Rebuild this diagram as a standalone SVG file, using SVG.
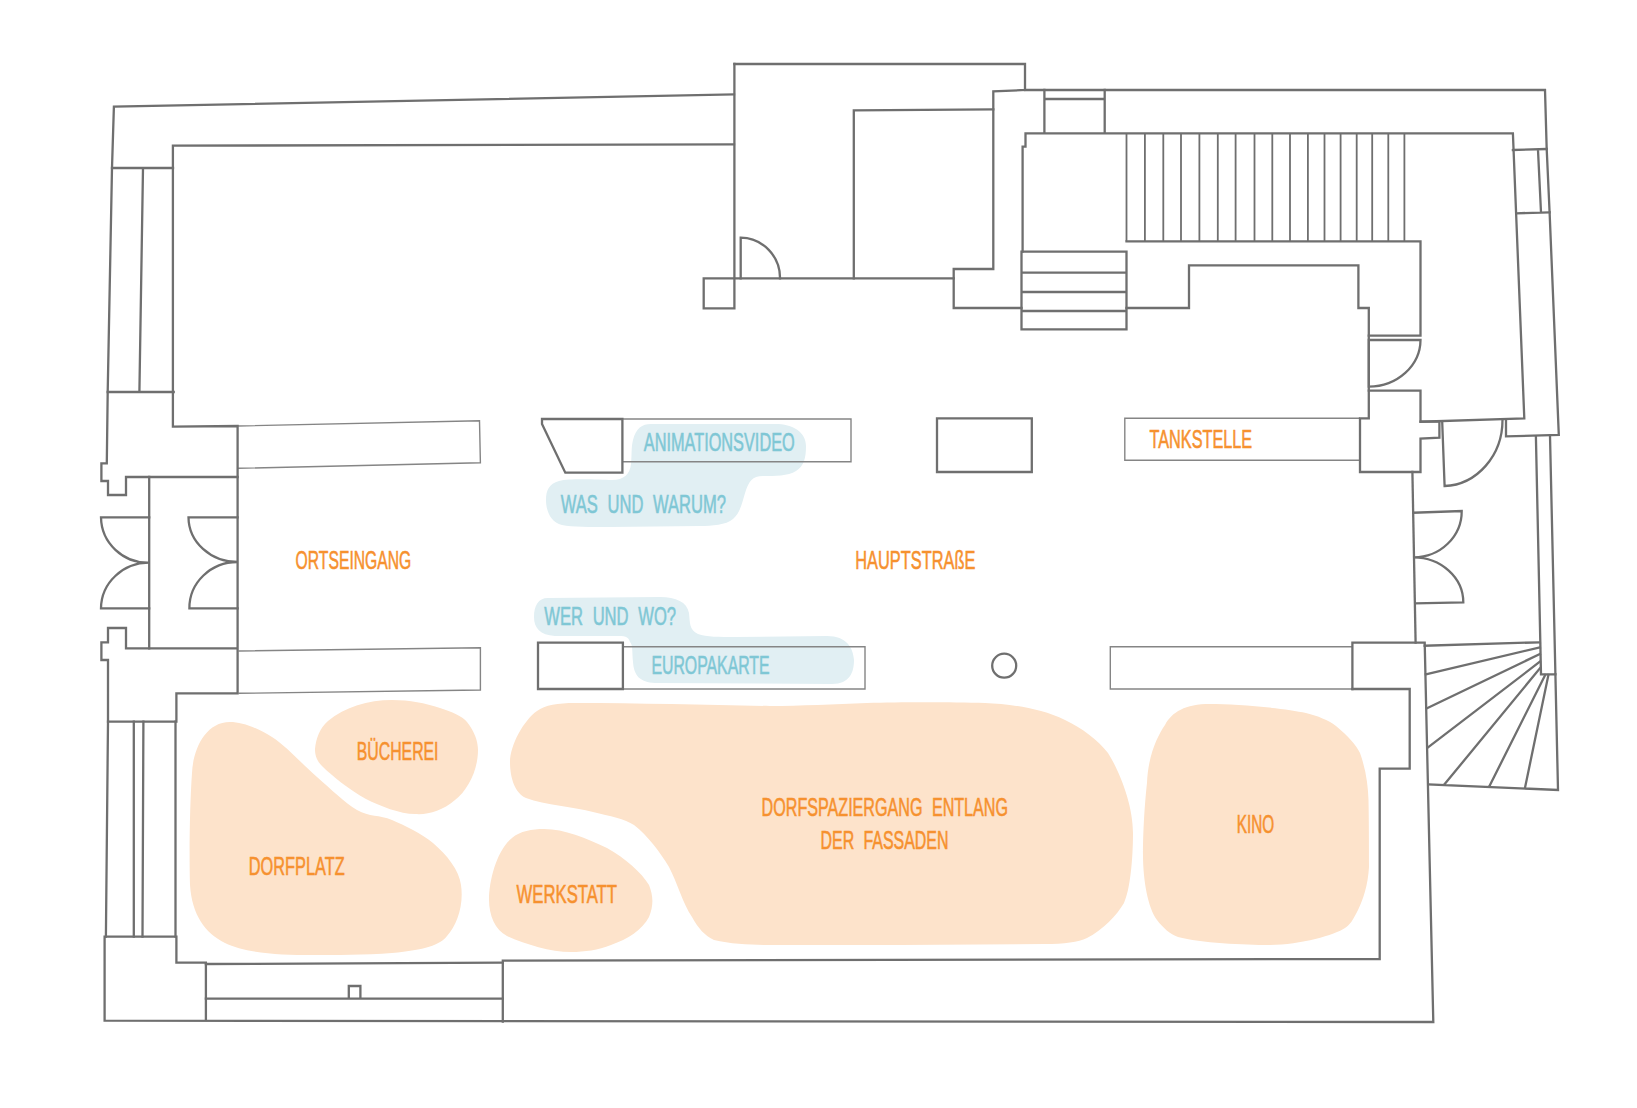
<svg xmlns="http://www.w3.org/2000/svg" width="1637" height="1108" viewBox="0 0 1637 1108">
<style>
.w{fill:none;stroke:#6f6f6f;stroke-width:2.3;stroke-linejoin:miter;stroke-linecap:square}
.t{fill:none;stroke:#858585;stroke-width:1.4}
.o{fill:#fde3cb}
.b{fill:#e1eff3}
text{font-family:"Liberation Sans",Arial,sans-serif;font-size:26px;word-spacing:8px;stroke-width:.6px}
.lo{fill:#f6912f;stroke:#f6912f}
.lb{fill:#7fc7d5;stroke:#7fc7d5}
</style>
<rect width="1637" height="1108" fill="#fff"/>
<g id="areas">
<path class="o" d="M230 722C242 722 257.5 727.8 272 737S302.8 764.8 317 777S344.5 802.8 357 810S379.3 814.5 392 820S421.7 833.5 433 843C447 855 459 870 461 885C464 905 457 925 447 936C440 945 425 950 392 953C365 955 335 955 312 955C280 955 245 953 225 943C205 933 192 915 190 885C189 850 190 800 192 773C193 750 205 722 230 722Z"/>
<path class="o" d="M392 700C410 700 425 703 440 708C452 712 462 716 467 722C475 732 478 742 478 750C478 770 468 790 455 800C442 811 428 815 415 814C400 814 380 806 366 799C350 790 332 776 322 766C316 760 315 754 315 749C316 738 320 728 328 721C345 707 368 700 392 700Z"/>
<path class="o" d="M544 829C565 829 585 838 607 848C625 858 642 873 649 885C653 895 654 905 649 917C642 930 628 939 611 945C598 950 585 952 571 952C550 952 525 944 507 936C495 930 489 915 489 900C489 880 497 850 512 838C520 831 532 829 544 829Z"/>
<path class="o" d="M575 703C558 703 545 705 537 711C524 720 510 745 510 762C510 778 515 793 526 798C545 805 575 807 593 812C610 816 625 819 634 825C648 836 660 852 669 867C677 882 683 904 692 917C698 928 705 936 714 940C735 945 760 945 780 945L900 945L1044 944C1065 944 1078 942 1087 938C1103 930 1117 915 1124 903C1130 890 1133 860 1133 833C1133 805 1120 772 1108 753C1098 740 1082 728 1065 720C1040 708 1010 704 985 703C950 702 900 702 867 703C835 704 800 706 770 706C710 705 640 703 575 703Z"/>
<path class="o" d="M1210 704C1235 704 1285 708 1306 713C1318 716 1328 720 1336 726C1348 736 1356 745 1360 753C1366 770 1368 785 1368.5 800C1369 825 1369 850 1369 867C1368 885 1363 900 1358 910C1353 920 1350 925 1345 928C1335 935 1300 945 1269 945C1245 945 1200 943 1178 937C1170 934 1163 928 1157 920C1148 908 1143 880 1143 855C1143 830 1145 800 1147 783C1148 755 1158 735 1165 725C1172 712 1185 704 1210 704Z"/>
<path class="b" d="M651 424L775 424C793 424 806 432 806 446C806 458 804 466 796 471C788 476 775 476 763 476C752 476 749 482 746 490C742 502 741 512 733 519C726 525 712 526 700 526L610 527C590 527 572 527 562 525C550 522 546 510 546 500C546 490 549 484 559 481C572 478 600 480 612 480C624 480 630 474 631 464C632 455 631 448 633 440C636 428 642 424 651 424Z"/>
<path class="b" d="M548 598L660 597C676 597 687 602 689 613C690 622 689 630 698 634C706 637 720 637 735 637L827 636C847 636 853 648 854 660C854 672 850 684 832 684L655 683C640 682 634 676 633 662C632 652 633 645 630 642C628 636 625 636 615 636L555 636C540 635 534 628 534 617C534 606 538 598 548 598Z"/>
</g>
<g id="thin-walls">
<path class="t" d="M238 426L479.5 420.7L480.4 462.7L238 468.3"/>
<path class="t" d="M238.5 651L480.4 647.7L480.4 690L238.5 693.3"/>
<path class="t" d="M622.4 419H851V461.7H622.4"/>
<path class="t" d="M622.9 646.7H865V689H622.9"/>
<path class="t" d="M1360 418.3H1124.8V460.3H1360"/>
<path class="t" d="M1352.4 646.7H1110.3V689H1352.4"/>
</g>
<g id="walls">
<path class="w" d="M734 94.3L113.9 106.7L112 168L107.7 392L106.8 463.3H101.4V481H108V495H126V477H237.6"/>
<path class="w" d="M734 144.3L172.9 145.7V426.7L237.6 426V693.3H176.4V721.7H108V660H101.4V642.3H108V628H126V648.3H237.6"/>
<path class="w" d="M112 168H173M143 168L139.4 392M107.7 392H173.7M149.2 477V648.3"/>
<path class="w" d="M734.4 64H1025V90L993.3 91.3V269H953.7V308H1021.5"/>
<path class="w" d="M734.4 64V308.3H703.7V278.3H953.7"/>
<path class="w" d="M740.7 278.3V237.7A40 40 0 0 1 780 278.3"/>
<path class="w" d="M853.8 278.3V110.3L993.3 109.3"/>
<path class="w" d="M1025 90H1545L1546.7 149L1549.6 212.3L1558.8 435L1506 436.3V419.3"/>
<path class="w" d="M1044.4 90V132.7M1104.7 90V132.7M1044.4 99H1104.7"/>
<path class="w" d="M1022.6 251.7V146.7H1025.5V133.3H1512.9L1524.3 418.3L1420.5 421.7V390.7H1368.8"/>
<path class="t" style="stroke:#6f6f6f;stroke-width:1.8" d="M1126.5 133.3V241.3M1144.9 133.3V241.3M1163.3 133.3V241.3M1181 133.3V241.3M1199.4 133.3V241.3M1217.8 133.3V241.3M1235.6 133.3V241.3M1254.5 133.3V241.3M1272.3 133.3V241.3M1290 133.3V241.3M1307.9 133.3V241.3M1324.5 133.3V241.3M1340.6 133.3V241.3M1356.7 133.3V241.3M1372.2 133.3V241.3M1388.3 133.3V241.3M1404.4 133.3V241.3"/>
<path class="w" d="M1126.5 241.3H1420.5V335.7H1368.8"/>
<path class="w" d="M1126.5 308H1189V265.3H1358.4V308H1368.8V418.3H1360V472H1420.5V438.7L1439.4 437.7V421.7H1420.5"/>
<path class="w" d="M1021.5 251.7H1126.5V329.3H1021.5ZM1021.5 272.7H1126.5M1021.5 292H1126.5M1021.5 311H1126.5"/>
<path class="w" d="M1368.8 386.7V340H1420.5A52 47 0 0 1 1368.8 386.7"/>
<path class="w" d="M1442.2 421.7L1444.6 486A60 66 0 0 0 1502.5 420"/>
<path class="w" d="M1512.9 150L1546.7 149M1516.3 213.3L1549.6 212.3M1538 150L1541 212.3"/>
<path class="w" d="M1412.4 472L1415.6 642.7"/>
<path class="w" d="M1413.5 512.7L1461.7 511A48 46 0 0 1 1413.5 557.3A50 45 0 0 1 1463.3 602.3L1415.6 603.3"/>
<path class="w" d="M1535.9 436.3L1541 674.3H1555.4L1550 435.7"/>
<path class="w" d="M542 419H622.4V472.7H565.3L542 424Z"/>
<path class="w" d="M538 642.7H622.9V689H538Z"/>
<path class="w" d="M937 418.3H1031.8V472H937Z"/>
<circle class="w" cx="1004.2" cy="665.7" r="12"/>
<path class="w" d="M1352.4 689V642.7H1424.7L1433.3 1022L104.6 1020.7V936.7H176.4V962.7H205.9V1020.7"/>
<path class="w" d="M1352.4 689H1409.7V768.7H1379.7V959L502.8 960.7V1021.7"/>
<path class="w" d="M205.9 964L502.8 962.7M205.9 998.7H502.8M348.8 998.7V986H360.4V998.7"/>
<path class="w" d="M108 721.7L105.9 936.7M133.8 721.7V936.7M143.4 721.7L142.5 936.7M175.5 721.7V936.7"/>
<path class="w" d="M149.2 517.3H101A47 46 0 0 0 149.2 562.7A48 46 0 0 0 101 608.3H149.2"/>
<path class="w" d="M237.6 517.3H188.5A49 45 0 0 0 237.6 562A48 46 0 0 0 189.4 608.3H237.6"/>
<path class="w" d="M1424.7 645.7L1539.9 642.3M1539.9 647.3L1425.8 674.3M1539.9 654L1427 708.3M1539.9 661.7L1428 747.3M1539.9 668.3L1444.5 784.3M1545.2 675L1489.5 786M1548.4 675L1524.9 788.3M1428.4 784.3L1558 790L1555.4 674.3"/>
</g>
<g id="labels" transform="translate(0,-1)">
<text class="lo" x="295.6" y="570" textLength="115.7" lengthAdjust="spacingAndGlyphs">ORTSEINGANG</text>
<text class="lo" x="855.3" y="570" textLength="120" lengthAdjust="spacingAndGlyphs">HAUPTSTRAßE</text>
<text class="lo" x="1149.5" y="449" textLength="102.7" lengthAdjust="spacingAndGlyphs">TANKSTELLE</text>
<text class="lb" x="643.8" y="451.7" textLength="150.9" lengthAdjust="spacingAndGlyphs">ANIMATIONSVIDEO</text>
<text class="lb" x="560.8" y="514" textLength="165.2" lengthAdjust="spacingAndGlyphs">WAS UND WARUM?</text>
<text class="lb" x="544.3" y="626" textLength="131.7" lengthAdjust="spacingAndGlyphs">WER UND WO?</text>
<text class="lb" x="651.4" y="675" textLength="118.2" lengthAdjust="spacingAndGlyphs">EUROPAKARTE</text>
<text class="lo" x="356.8" y="760.7" textLength="81.7" lengthAdjust="spacingAndGlyphs">BÜCHEREI</text>
<text class="lo" x="248.8" y="875.7" textLength="95.9" lengthAdjust="spacingAndGlyphs">DORFPLATZ</text>
<text class="lo" x="516.6" y="904" textLength="100.4" lengthAdjust="spacingAndGlyphs">WERKSTATT</text>
<text class="lo" x="761.6" y="817.3" textLength="246.4" lengthAdjust="spacingAndGlyphs">DORFSPAZIERGANG ENTLANG</text>
<text class="lo" x="820.5" y="850" textLength="128" lengthAdjust="spacingAndGlyphs">DER FASSADEN</text>
<text class="lo" x="1236.7" y="834" textLength="37.5" lengthAdjust="spacingAndGlyphs">KINO</text>
</g>
</svg>
